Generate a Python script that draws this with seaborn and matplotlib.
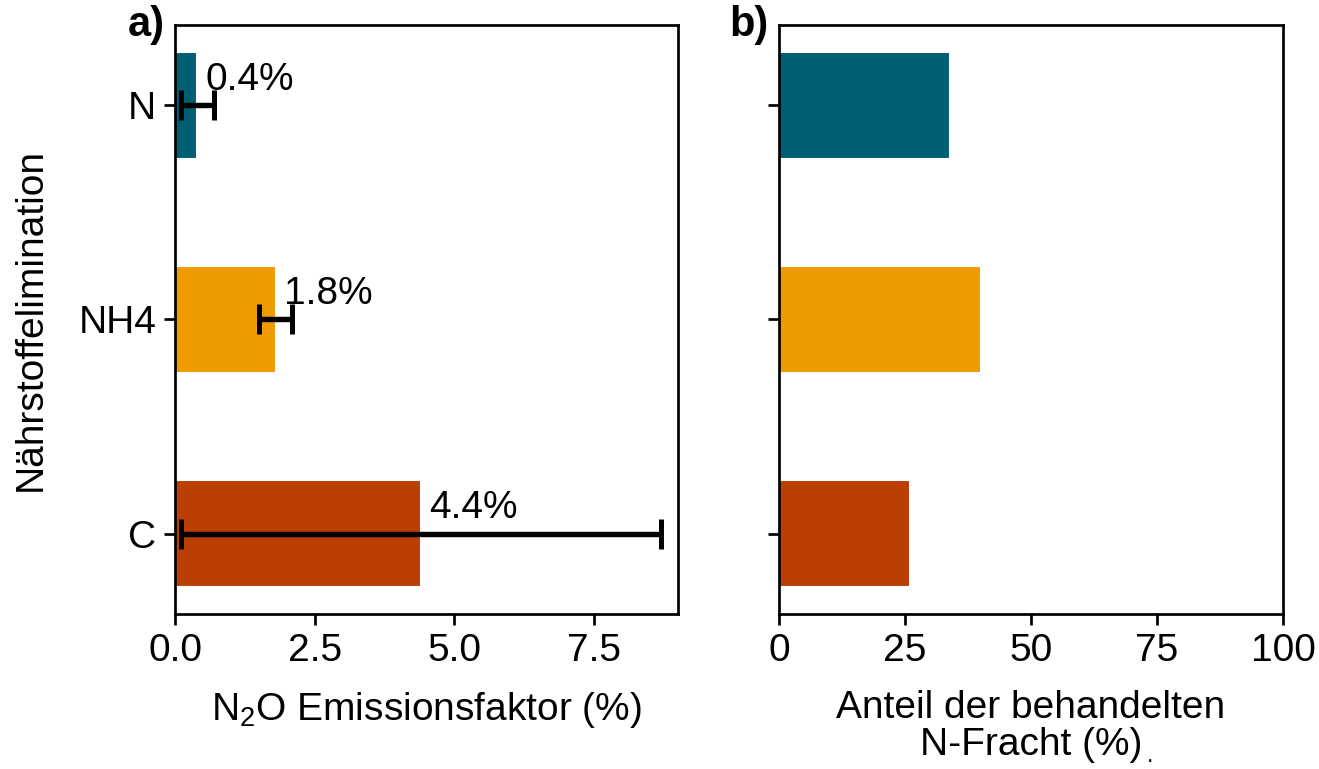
import matplotlib
matplotlib.use("Agg")
import matplotlib.pyplot as plt
import seaborn as sns

# data
categories = ["N", "NH4", "C"]
emission_factor = [0.4, 1.8, 4.4]      # N2O emission factor (%)
emission_err = [0.3, 0.3, 4.3]         # +/- spread
load_share = [34, 40, 26]              # share of treated N load (%)
value_labels = ["0.4%", "1.8%", "4.4%"]

colors = ["#005F73", "#EE9B00", "#BB3E03"]

sns.set_style("ticks")
plt.rcParams["font.family"] = ["Liberation Sans", "DejaVu Sans"]
plt.rcParams["font.size"] = 18.7
plt.rcParams["mathtext.fontset"] = "custom"
plt.rcParams["mathtext.rm"] = "Liberation Sans"
plt.rcParams["mathtext.default"] = "regular"
plt.rcParams["axes.edgecolor"] = "black"
plt.rcParams["axes.linewidth"] = 1.3
plt.rcParams["xtick.color"] = "black"
plt.rcParams["ytick.color"] = "black"
plt.rcParams["text.color"] = "black"
plt.rcParams["axes.labelcolor"] = "black"

fig = plt.figure(figsize=(1319 / 150, 769 / 150), dpi=150)
ax1 = fig.add_axes([0.1327, 0.2016, 0.3813, 0.766])
ax2 = fig.add_axes([0.5906, 0.2016, 0.3821, 0.766])

# a) emission factor with error bars
sns.barplot(x=emission_factor, y=categories, hue=categories, palette=colors,
            orient="h", width=0.5, legend=False, saturation=1, ax=ax1)
ax1.errorbar(emission_factor, range(len(categories)), xerr=emission_err,
             fmt="none", ecolor="black", elinewidth=2.6, capsize=7, capthick=2.4)
for i, (v, lab) in enumerate(zip(emission_factor, value_labels)):
    ax1.text(v + 0.15, i - 0.12, lab, ha="left", va="center", fontsize=18.7)

ax1.set_xlim(0, 9)
ax1.set_ylim(2.375, -0.375)
ax1.set_xticks([0, 2.5, 5.0, 7.5])
ax1.set_xticklabels(["0.0", "2.5", "5.0", "7.5"])
ax1.set_xlabel("N$_2$O Emissionsfaktor (%)", labelpad=10)
ax1.set_ylabel("Nährstoffelimination", labelpad=14)
ax1.tick_params(length=5.5, width=1.3, labelsize=18.7)
ax1.text(-0.02, 1.0, "a)", transform=ax1.transAxes, ha="right", va="center",
         fontsize=20, fontweight="bold")

# b) share of treated N load
sns.barplot(x=load_share, y=categories, hue=categories, palette=colors,
            orient="h", width=0.5, legend=False, saturation=1, ax=ax2)
ax2.set_xlim(0, 100)
ax2.set_ylim(2.375, -0.375)
ax2.set_xticks([0, 25, 50, 75, 100])
ax2.set_yticklabels([])
ax2.set_ylabel("")
ax2.set_xlabel("Anteil der behandelten\nN-Fracht (%)", labelpad=10, linespacing=1.05)
ax2.tick_params(length=5.5, width=1.3, labelsize=18.7)
ax2.text(-0.02, 1.0, "b)", transform=ax2.transAxes, ha="right", va="center",
         fontsize=20, fontweight="bold")

# stray dot next to the right x label, as in the original figure
fig.text(0.872, 0.002, ".", fontsize=11, ha="center", va="bottom")

fig.savefig("out.png", dpi=150)
